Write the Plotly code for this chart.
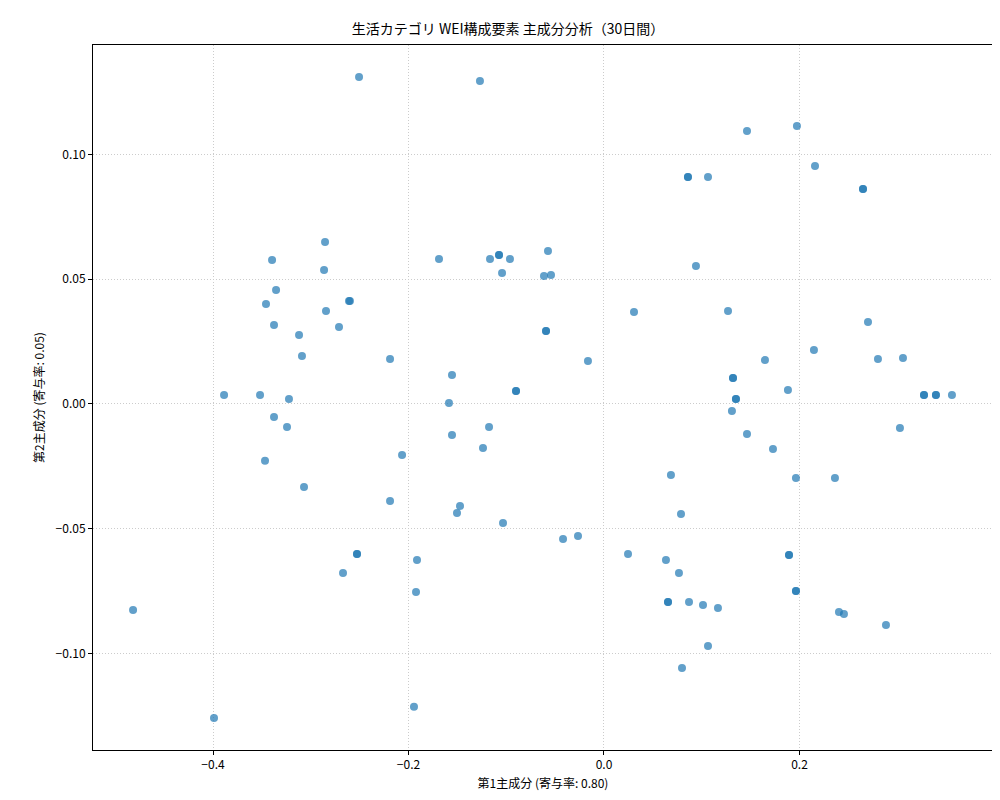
import plotly.graph_objects as go

pc1 = [-0.2506,-0.1269,0.1463,0.1974,0.2159,0.0859,0.0859,0.1064,0.2650,0.2650,
       -0.3396,-0.2854,-0.1688,-0.1166,-0.1074,-0.1074,-0.0962,-0.0573,-0.2864,-0.3355,
       -0.3458,-0.3376,-0.2844,-0.2711,-0.3120,-0.3090,-0.2609,-0.2599,-0.1043,-0.0614,
       -0.0542,0.0941,0.0307,0.1269,-0.0593,-0.0593,-0.0164,-0.2189,-0.1555,-0.3887,
       -0.3519,-0.3223,-0.1586,-0.0900,-0.0900,0.1320,0.1320,0.1647,0.2148,0.2701,
       0.2803,0.3059,0.1882,0.1350,0.1350,0.1309,0.3274,0.3274,0.3396,0.3396,
       0.3560,0.3028,-0.3376,-0.3243,-0.1176,-0.1555,-0.1238,-0.2066,0.1463,0.1729,
       -0.3468,-0.3069,0.0685,0.1964,0.2363,-0.2189,-0.1473,-0.1504,-0.1033,-0.0419,
       -0.0266,0.0246,-0.2527,-0.2527,-0.1913,-0.2670,-0.1923,0.0634,0.0767,0.0788,
       0.0655,0.0655,0.0870,0.1013,0.1166,0.1893,0.1893,0.1964,0.1964,0.2404,
       0.2455,0.2885,0.1064,0.0798,-0.4818,-0.3990,-0.1944]
pc2 = [0.1311,0.1295,0.1094,0.1114,0.0954,0.0910,0.0910,0.0910,0.0862,0.0862,
       0.0577,0.0649,0.0581,0.0581,0.0597,0.0597,0.0581,0.0613,0.0537,0.0457,
       0.0401,0.0317,0.0373,0.0309,0.0277,0.0192,0.0413,0.0413,0.0525,0.0513,
       0.0517,0.0553,0.0369,0.0373,0.0293,0.0293,0.0172,0.0180,0.0116,0.0036,
       0.0036,0.0020,0.0004,0.0052,0.0052,0.0104,0.0104,0.0176,0.0216,0.0329,
       0.0180,0.0184,0.0056,0.0020,0.0020,-0.0028,0.0036,0.0036,0.0036,0.0036,
       0.0036,-0.0096,-0.0052,-0.0092,-0.0092,-0.0124,-0.0176,-0.0204,-0.0120,-0.0180,
       -0.0228,-0.0333,-0.0285,-0.0297,-0.0297,-0.0389,-0.0409,-0.0437,-0.0477,-0.0541,
       -0.0529,-0.0601,-0.0601,-0.0601,-0.0625,-0.0677,-0.0754,-0.0625,-0.0677,-0.0441,
       -0.0794,-0.0794,-0.0794,-0.0806,-0.0818,-0.0605,-0.0605,-0.0750,-0.0750,-0.0834,
       -0.0842,-0.0886,-0.0970,-0.1058,-0.0826,-0.1259,-0.1214]

title = "生活カテゴリ WEI構成要素 主成分分析（30日間）"
xlabel = "第1主成分 (寄与率: 0.80)"
ylabel = "第2主成分 (寄与率: 0.05)"

fig = go.Figure(go.Scatter(
    x=pc1, y=pc2, mode="markers",
    marker=dict(size=8, color="#1f77b4", opacity=0.7, line=dict(width=0)),
))
ax = dict(showline=True, linecolor="black", linewidth=1, mirror=True,
          ticks="outside", ticklen=4, tickcolor="black", zeroline=False,
          automargin=False, tickfont=dict(size=12),
          showgrid=True, gridcolor="#cccccc", griddash="1px,2px", gridwidth=1)
fig.update_layout(
    width=1000, height=800, plot_bgcolor="white", paper_bgcolor="white",
    font=dict(family="Noto Sans CJK JP", size=12, color="black"),
    title=dict(text=title, x=0.5, xanchor="center", y=0.974, yanchor="middle",
               font=dict(size=14)),
    margin=dict(l=85, r=15, t=37, b=58),
    xaxis=dict(ax, range=[-0.5228, 0.398], tickvals=[-0.4,-0.2,0,0.2],
               ticktext=["−0.4","−0.2","0.0","0.2"],
               title=dict(text=xlabel, standoff=8, font=dict(size=12))),
    yaxis=dict(ax, range=[-0.1387, 0.1439], tickvals=[-0.1,-0.05,0,0.05,0.1],
               ticktext=["−0.10","−0.05","0.00","0.05","0.10"],
               title=dict(text=ylabel, standoff=8, font=dict(size=12))),
    showlegend=False,
)
fig.write_html("out.html")
